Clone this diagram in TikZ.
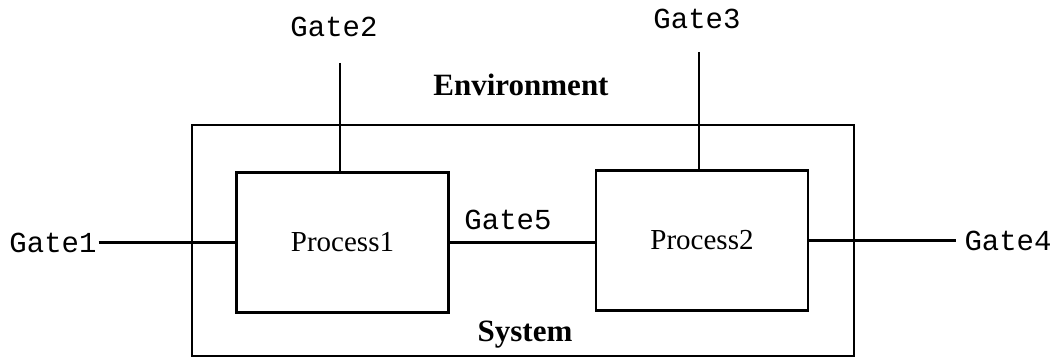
\documentclass[tikz,border=0pt]{standalone}
\usepackage{fontspec}
\setmainfont{Liberation Serif}
\newfontfamily\gatefont{Liberation Mono}
\usepackage{tikz}
\usetikzlibrary{calc,positioning}

\begin{document}
\begin{tikzpicture}[x=1pt, y=-1pt,
            proc/.style={rectangle, draw=black, line width=2.8pt, minimum width=212pt,
            minimum height=140pt, font=\fontsize{29}{32}\selectfont},
            gate/.style={font=\gatefont\fontsize{29}{32}\selectfont, inner sep=2pt},
            title/.style={font=\fontsize{31}{34}\selectfont\bfseries},
            wire/.style={line width=2.8pt}]
            \useasboundingbox (0,0) rectangle (1058,358);

            % system boundary
            \draw [wire] (192,125) rectangle (854,356);
            \node (env) [title] at (521,85) {Environment};
            \node (sys) [title] at (525,335) {System};

            \node (P1) [proc] at (342.5,242.5) {Process1};
            \node (P2) [proc] at (702,240.5) {Process2};

            % gates
            \node (Gate1) [gate] at (53,242.5) {Gate1};
            \node (Gate2) [gate] at (334,27) {Gate2};
            \node (Gate3) [gate] at (697,19) {Gate3};
            \node (Gate4) [gate, inner xsep=8pt] at (1008,240.5) {Gate4};
            \node (Gate5) [gate] at (508,220) {Gate5};
            \coordinate (g2) at (340,63);
            \coordinate (g3) at (699,52);

            \draw [wire] (Gate1) -- (P1);
            \draw [wire] (P2) -- (Gate4);
            \draw [wire] (P1.east) -- (P1.east -| P2.west);
            \draw [wire] (g2) -- (g2 |- P1.north);
            \draw [wire] (g3) -- (g3 |- P2.north);
        \end{tikzpicture}
\end{document}
